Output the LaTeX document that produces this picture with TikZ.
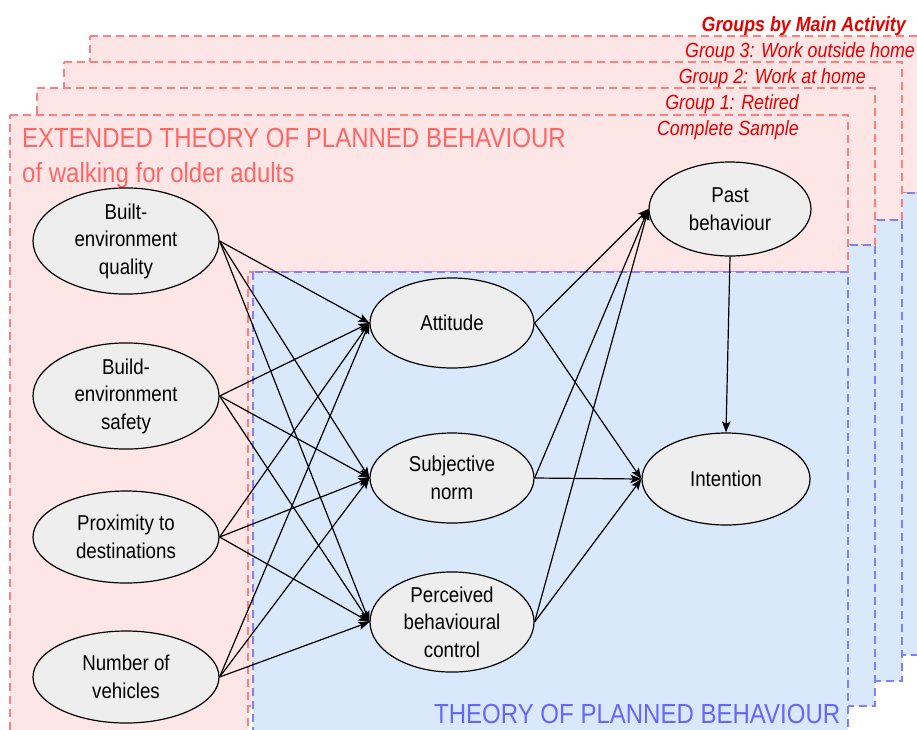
\documentclass[tikz,border=0pt]{standalone}
\usepackage{fontspec}
\setmainfont[FakeStretch=0.87]{Liberation Sans}
\usetikzlibrary{shapes.geometric,arrows.meta}
\definecolor{pinkfill}{HTML}{FFE6E6}
\definecolor{pinkline}{HTML}{FF7F7F}
\definecolor{bluefill}{HTML}{DAE8FC}
\definecolor{blueline}{HTML}{7F7FFF}
\definecolor{nodefill}{HTML}{EEEEEE}
\definecolor{titlered}{HTML}{FF6666}
\definecolor{titleblue}{HTML}{6666FF}
\definecolor{grpred}{HTML}{E60000}
\tikzset{
  pinkbox/.style={fill=pinkfill, draw=pinkline, line width=1.2pt, dash pattern=on 8pt off 5pt},
  bluebox/.style={fill=bluefill, draw=blueline, line width=1.2pt, dash pattern=on 8pt off 5pt},
  ell/.style={ellipse, draw=black, fill=nodefill, line width=1.2pt, inner sep=0pt, align=center,
    font=\fontsize{21.5}{27.5}\selectfont},
  conn/.style={line width=1.2pt, -{Stealth[length=11pt,width=8.5pt,inset=2.5pt]}},
  bigtitle/.style={inner sep=0pt, font=\fontsize{27.6}{35}\selectfont},
  grplabel/.style={inner sep=0pt, anchor=base east, text=grpred, font=\fontsize{20.5}{24}\selectfont\itshape},
}
\begin{document}
\begin{tikzpicture}[x=1pt,y=-1pt]
\useasboundingbox (0,0) rectangle (917,729);
\clip (0,0) rectangle (917,729);
% group 3
\filldraw[pinkbox] (90,36) -- (929,36) -- (929,193) -- (328,193) -- (328,655) -- (90,655) -- cycle;
\filldraw[bluebox] (333,193) rectangle (929,655);
% group 2
\filldraw[pinkbox] (64,62) -- (902,62) -- (902,220) -- (302,220) -- (302,681) -- (64,681) -- cycle;
\filldraw[bluebox] (307,220) rectangle (902,681);
% group 1
\filldraw[pinkbox] (37,88) -- (875,88) -- (875,245) -- (275,245) -- (275,706) -- (37,706) -- cycle;
\filldraw[bluebox] (280,245) rectangle (875,706);
% complete sample
\filldraw[pinkbox] (10,115) -- (848,115) -- (848,272) -- (248,272) -- (248,735) -- (10,735) -- cycle;
\filldraw[bluebox] (253,272) rectangle (848,735);

% labels
\node[grplabel, font=\fontsize{20.5}{24}\selectfont\bfseries\itshape] (lgroups) at (906,31) {Groups by Main Activity};
\node[grplabel] (lg3) at (915,57) {Group 3: Work outside home};
\node[grplabel] (lg2) at (866,83) {Group 2: Work at home};
\node[grplabel] (lg1) at (799,109) {Group 1: Retired};
\node[grplabel] (lg0) at (799,135) {Complete Sample};
\node[bigtitle, anchor=base west, text=titlered] (t1) at (22,147) {EXTENDED THEORY OF PLANNED BEHAVIOUR};
\node[bigtitle, anchor=base west, text=titlered] (t2) at (22,182) {of walking for older adults};
\node[bigtitle, anchor=base west, text=titleblue] (t3) at (434,723) {THEORY OF PLANNED BEHAVIOUR};

% nodes
\node[ell, minimum width=186pt, minimum height=92pt] (beq) at (126,241) {Built-\\environment\\quality};
\node[ell, minimum width=186pt, minimum height=92pt] (bes) at (126,396) {Build-\\environment\\safety};
\node[ell, minimum width=186pt, minimum height=92pt] (pd) at (126,537) {Proximity to\\destinations};
\node[ell, minimum width=186pt, minimum height=92pt] (nv) at (126,677) {Number of\\vehicles};
\node[ell, minimum width=164pt, minimum height=90pt] (att) at (452,323) {Attitude};
\node[ell, minimum width=164pt, minimum height=90pt] (sn) at (452,478) {Subjective\\norm};
\node[ell, minimum width=164pt, minimum height=90pt] (pbc) at (452,622) {Perceived\\behavioural\\control};
\node[ell, minimum width=162pt, minimum height=94pt] (pb) at (730,209) {Past\\behaviour};
\node[ell, minimum width=168pt, minimum height=92pt] (int) at (726,479) {Intention};

% connectors
\foreach \s in {beq,bes,pd,nv}{
  \foreach \t in {att,sn,pbc}{
    \draw[conn] (\s.east) -- (\t.west);
  }
}
\foreach \s in {att,sn,pbc}{
  \draw[conn] (\s.east) -- (pb.west);
  \draw[conn] (\s.east) -- (int.west);
}
\draw[conn] (pb.south) -- (int.north);
\end{tikzpicture}
\end{document}
